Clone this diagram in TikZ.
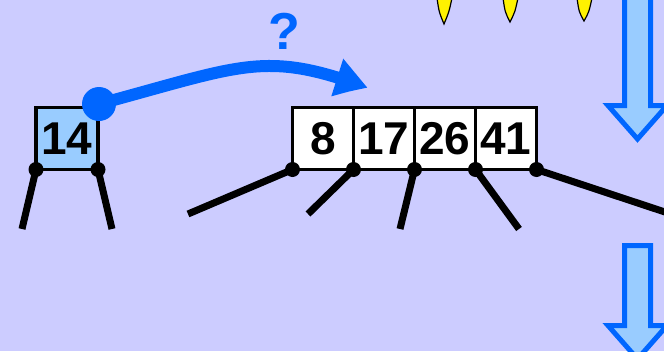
\documentclass[tikz,border=0pt]{standalone}
\usepackage{fontspec}
\setmainfont{Liberation Sans}
\usepackage{tikz}
\usetikzlibrary{arrows.meta,bending}
\definecolor{bgc}{RGB}{204,204,255}
\definecolor{paleblue}{RGB}{153,204,255}
\definecolor{ptrblue}{RGB}{0,102,255}
\tikzset{
key/.style={draw,line width=3.5pt,fill=white,minimum width=61pt,minimum height=62pt,inner sep=0pt,outer sep=0pt,font=\fontsize{46}{46}\selectfont\bfseries},
edge/.style={line width=7pt},
}
\begin{document}
\begin{tikzpicture}[x=1pt,y=-1pt]
\useasboundingbox(0,0)rectangle(664,351);
\clip(0,0)rectangle(664,351);
\fill[bgc](0,0)rectangle(664,351);
\foreach \x/\y in {444/24,510/22,584/21}
\draw[fill=yellow,line width=1.2pt](\x-7,-2)..controls(\x-5,12)..(\x,\y)..controls(\x+5,12)..(\x+8,-2);
\foreach \t/\b in {-10/0,245.5/220}
\draw[line width=5pt,draw=ptrblue,fill=paleblue](624.5,\t)--(624.5,\b+105.5)--(608,\b+105.5)--(637.5,\b+139)--(667,\b+105.5)--(650.5,\b+105.5)--(650.5,\t)--cycle;
\node[key,fill=paleblue,minimum width=62pt](k14)at(67,138.5){14};
\node[key](k8)at(323,138.5){8};
\node[key](k17)at(384,138.5){17};
\node[key](k26)at(445,138.5){26};
\node[key](k41)at(506,138.5){41};
\coordinate(a1)at(22,229);
\coordinate(a2)at(112,229);
\coordinate(b1)at(188,214);
\coordinate(b2)at(308,214);
\coordinate(b3)at(400,229);
\coordinate(b4)at(519,229);
\coordinate(b5)at(680,217);
\draw[edge](k14.south west)--(a1)
(k14.south east)--(a2)
(k8.south west)--(b1)
(k17.south west)--(b2)
(k26.south west)--(b3)
(k41.south west)--(b4)
(k41.south east)--(b5);
\foreach \n in {k14.south west,k14.south east,k8.south west,k17.south west,k26.south west,k41.south west,k41.south east}
\fill(\n)circle(7.5);
\coordinate(p14)at(99,104);
\coordinate(q)at(368,88);
\fill[ptrblue](p14)circle(17);
\draw[ptrblue,line width=12pt,-{Triangle[length=34pt,width=36pt,bend]}](p14)..controls(244,65)and(265,50)..(q);
\node[text=ptrblue,font=\fontsize{52}{52}\selectfont\bfseries](qm)at(284,31){?};
\end{tikzpicture}
\end{document}
